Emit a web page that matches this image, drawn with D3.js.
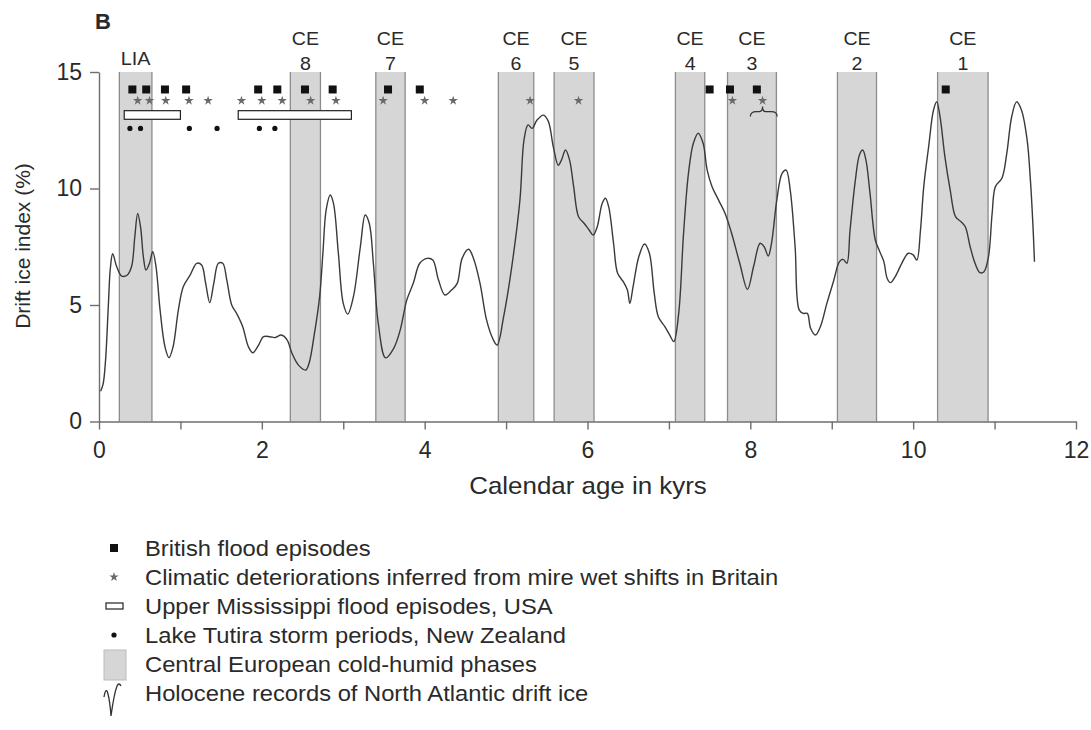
<!doctype html>
<html>
<head>
<meta charset="utf-8">
<title>drift ice</title>
<script src="https://cdn.jsdelivr.net/npm/d3@7"></script>
<style>
	body { margin: 0; background: #fff; }
	text { font-family: "Liberation Sans", Arial, sans-serif; fill: #2a2a2a; }
</style>
</head>
<body>
<script>
// drift ice record (kyr, %)
var ageKyr = [0.02, 0.05, 0.08, 0.115, 0.14, 0.168, 0.217, 0.279, 0.348, 0.40, 0.44, 0.475, 0.51, 0.545, 0.577, 0.62, 0.66, 0.70, 0.75, 0.81, 0.86, 0.91, 0.975, 1.036, 1.12, 1.20, 1.26, 1.31, 1.36, 1.41, 1.466, 1.52, 1.57, 1.63, 1.69, 1.765, 1.835, 1.89, 1.96, 2.02, 2.10, 2.16, 2.24, 2.31, 2.37, 2.45, 2.54, 2.58, 2.64, 2.71, 2.75, 2.79, 2.84, 2.88, 2.94, 3.0, 3.055, 3.125, 3.21, 3.27, 3.32, 3.37, 3.43, 3.52, 3.62, 3.70, 3.78, 3.86, 3.94, 4.03, 4.10, 4.17, 4.25, 4.33, 4.40, 4.46, 4.54, 4.60, 4.68, 4.76, 4.84, 4.89, 4.97, 5.07, 5.17, 5.22, 5.27, 5.32, 5.38, 5.46, 5.52, 5.58, 5.64, 5.68, 5.73, 5.78, 5.83, 5.89, 5.96, 6.02, 6.07, 6.12, 6.18, 6.22, 6.26, 6.32, 6.37, 6.44, 6.49, 6.52, 6.56, 6.63, 6.70, 6.76, 6.82, 6.87, 6.95, 7.01, 7.06, 7.12, 7.18, 7.24, 7.30, 7.36, 7.42, 7.47, 7.53, 7.61, 7.69, 7.77, 7.87, 7.965, 8.04, 8.12, 8.17, 8.22, 8.26, 8.325, 8.39, 8.44, 8.49, 8.55, 8.60, 8.65, 8.70, 8.74, 8.80, 8.86, 8.94, 9.02, 9.095, 9.14, 9.185, 9.225, 9.29, 9.34, 9.38, 9.42, 9.47, 9.535, 9.59, 9.64, 9.68, 9.72, 9.78, 9.86, 9.94, 10.0, 10.045, 10.09, 10.13, 10.19, 10.25, 10.29, 10.33, 10.39, 10.455, 10.52, 10.585, 10.64, 10.70, 10.76, 10.82, 10.87, 10.925, 10.97, 11.01, 11.09, 11.15, 11.21, 11.27, 11.33, 11.40, 11.44, 11.47, 11.49]
var driftIce = [1.3, 1.6, 2.6, 5.0, 6.6, 7.2, 6.65, 6.24, 6.29, 6.65, 7.93, 8.93, 8.36, 7.07, 6.5, 6.79, 7.29, 6.65, 4.79, 3.21, 2.74, 3.21, 4.79, 5.79, 6.29, 6.79, 6.72, 5.93, 5.10, 5.93, 6.79, 6.79, 6.07, 5.0, 4.64, 4.07, 3.21, 2.95, 3.28, 3.64, 3.64, 3.6, 3.71, 3.5, 2.93, 2.42, 2.21, 2.5, 3.64, 5.36, 7.22, 9.08, 9.72, 9.36, 7.22, 5.07, 4.61, 5.36, 7.5, 8.86, 8.5, 6.79, 4.21, 2.73, 3.14, 3.93, 5.21, 5.93, 6.79, 7.0, 6.93, 6.07, 5.43, 5.64, 5.93, 7.0, 7.39, 7.0, 5.93, 4.36, 3.53, 3.28, 4.5, 6.65, 9.5, 12.08, 12.73, 12.58, 12.94, 13.15, 12.87, 11.79, 11.0, 11.22, 11.65, 11.22, 10.08, 8.79, 8.5, 8.22, 8.0, 8.36, 9.36, 9.58, 9.22, 7.65, 6.36, 6.0, 5.64, 5.07, 5.79, 7.07, 7.62, 7.22, 5.5, 4.5, 4.07, 3.71, 3.43, 4.64, 8.08, 10.65, 11.94, 12.37, 11.94, 10.79, 10.08, 9.5, 8.93, 8.08, 6.79, 5.67, 6.65, 7.65, 7.5, 7.1, 7.65, 9.5, 10.65, 10.79, 9.93, 7.5, 4.79, 4.64, 4.64, 4.0, 3.71, 4.07, 5.07, 6.0, 6.86, 6.96, 6.79, 8.22, 10.36, 11.44, 11.65, 11.22, 9.79, 7.79, 7.29, 6.86, 6.15, 5.96, 6.22, 6.79, 7.22, 7.15, 6.93, 8.22, 10.08, 11.79, 13.37, 13.72, 13.08, 11.36, 9.93, 8.79, 8.58, 8.36, 7.5, 6.79, 6.39, 6.43, 7.07, 8.93, 10.08, 10.44, 11.51, 13.08, 13.72, 13.37, 12.08, 10.36, 8.5, 6.86]

// central european cold-humid phases
var phaseNames = ["LIA", "8", "7", "6", "5", "4", "3", "2", "1"]
var phaseStart = [0.25, 2.35, 3.40, 4.905, 5.59, 7.08, 7.72, 9.07, 10.30]
var phaseEnd = [0.65, 2.72, 3.76, 5.34, 6.08, 7.44, 8.32, 9.55, 10.92]

var britishFloods = [0.41, 0.58, 0.81, 1.07, 1.955, 2.19, 2.53, 2.87, 3.55, 3.94, 7.50, 7.75, 8.08, 10.40]
var mireShifts = [0.475, 0.62, 0.82, 1.105, 1.34, 1.75, 2.00, 2.25, 2.60, 2.91, 3.49, 4.00, 4.35, 5.295, 5.89, 7.78, 8.15]
var mississippiStart = [0.31, 1.71]
var mississippiEnd = [1.00, 3.10]
var tutiraStorms = [0.38, 0.51, 1.11, 1.45, 1.97, 2.16]

var legendLabels = ["British flood episodes",
	"Climatic deteriorations inferred from mire wet shifts in Britain",
	"Upper Mississippi flood episodes, USA",
	"Lake Tutira storm periods, New Zealand",
	"Central European cold-humid phases",
	"Holocene records of North Atlantic drift ice"]

var xTicks = d3.range(0, 13)
var yTicks = [0, 5, 10, 15]

var width = 1091
var height = 730
var svg = d3.select("body").append("svg")
	.attr("width", width)
	.attr("height", height)

var x = d3.scaleLinear().domain([0, 12]).range([99, 1076])
var y = d3.scaleLinear().domain([0, 15]).range([421.5, 72])

// text a little wider than the font, like the scanned figure
function label(g, tx, ty, size, sx, anchor, str) {
	return g.append("text")
		.attr("transform", "translate(" + tx + "," + ty + ") scale(" + sx + ",1)")
		.attr("text-anchor", anchor)
		.attr("font-size", size)
		.text(str)
}

// phases
var bands = svg.append("g")
phaseNames.forEach(function(n, i) {
	var x0 = x(phaseStart[i]), x1 = x(phaseEnd[i])
	bands.append("rect")
		.attr("x", x0).attr("y", y(15))
		.attr("width", x1 - x0).attr("height", y(0) - y(15))
		.attr("fill", "#d6d6d6")
	bands.selectAll(null).data([x0, x1]).enter().append("line")
		.attr("x1", function(d) { return d }).attr("x2", function(d) { return d })
		.attr("y1", y(15)).attr("y2", y(0))
		.attr("stroke", "#8c8c8c").attr("stroke-width", 1.3)
	var cx = (x0 + x1) / 2
	if (n == "LIA") {
		label(bands, cx, 65, 18, 1.1, "middle", "LIA")
	} else {
		label(bands, cx, 45, 18.5, 1.06, "middle", "CE")
		label(bands, cx, 70, 18.5, 1.06, "middle", n)
	}
})

// curve
var line = d3.line()
	.x(function(d, i) { return x(ageKyr[i]) })
	.y(function(d) { return y(d) })
	.curve(d3.curveCatmullRom.alpha(0.5))
svg.append("path")
	.datum(driftIce)
	.attr("d", line)
	.attr("fill", "none")
	.attr("stroke", "#3a3a3a")
	.attr("stroke-width", 1.4)

// event markers
svg.selectAll(".flood").data(britishFloods).enter().append("rect")
	.attr("x", function(d) { return x(d) - 4 })
	.attr("y", y(14.25) - 4)
	.attr("width", 8).attr("height", 8)
	.attr("fill", "#111")

var star = d3.symbol().type(d3.symbolStar).size(28)
svg.selectAll(".mire").data(mireShifts).enter().append("path")
	.attr("d", star)
	.attr("transform", function(d) { return "translate(" + x(d) + "," + y(13.77) + ")" })
	.attr("fill", "#6a6a6a")

svg.selectAll(".miss").data(mississippiStart).enter().append("rect")
	.attr("x", function(d) { return x(d) })
	.attr("y", y(13.34))
	.attr("width", function(d, i) { return x(mississippiEnd[i]) - x(d) })
	.attr("height", y(12.97) - y(13.34))
	.attr("fill", "#fff")
	.attr("stroke", "#222")
	.attr("stroke-width", 1.2)

svg.selectAll(".tutira").data(tutiraStorms).enter().append("circle")
	.attr("cx", function(d) { return x(d) })
	.attr("cy", y(12.58))
	.attr("r", 2.6)
	.attr("fill", "#111")

// brace under the CE3 mire shift
var bx0 = x(8.0), bx1 = x(8.33), bm = x(8.15), by = y(13.3)
svg.append("path")
	.attr("d", "M" + bx0 + "," + (by + 5) + " Q" + bx0 + "," + by + " " + (bx0 + 6) + "," + by
		+ " L" + (bm - 3) + "," + by + " Q" + bm + "," + by + " " + bm + "," + (by - 5)
		+ " Q" + bm + "," + by + " " + (bm + 3) + "," + by
		+ " L" + (bx1 - 6) + "," + by + " Q" + bx1 + "," + by + " " + bx1 + "," + (by + 5))
	.attr("fill", "none").attr("stroke", "#333").attr("stroke-width", 1.2)

// axes
var xAxis = svg.append("g")
	.attr("transform", "translate(0," + y(0) + ")")
	.call(d3.axisBottom(x).tickValues(xTicks).tickSize(8).tickSizeOuter(0).tickPadding(12)
		.tickFormat(function(d) { return d % 2 == 0 ? d : "" }))
var yAxis = svg.append("g")
	.attr("transform", "translate(" + x(0) + ",0)")
	.call(d3.axisLeft(y).tickValues(yTicks).tickSize(9).tickSizeOuter(0).tickPadding(8))
svg.selectAll(".domain, .tick line").attr("stroke", "#6e6e6e").attr("stroke-width", 1.4)
svg.selectAll(".tick text").attr("font-size", 23).attr("font-family", "Liberation Sans, Arial, sans-serif").attr("fill", "#2a2a2a")

label(svg, 588, 494, 24, 1.08, "middle", "Calendar age in kyrs")
svg.append("text")
	.attr("transform", "translate(30,246) rotate(-90)")
	.attr("text-anchor", "middle").attr("font-size", 21).text("Drift ice index (%)")
svg.append("text").attr("x", 95).attr("y", 28.5)
	.attr("font-size", 22).attr("font-weight", "bold").text("B")

// legend
var legend = svg.append("g")
var rowY = d3.range(legendLabels.length).map(function(i) { return 548 + i * 29 })
legendLabels.forEach(function(d, i) {
	label(legend, 145, rowY[i] + 8, 22, 1.08, "start", d)
})
legend.append("rect").attr("x", 110).attr("y", rowY[0] - 4).attr("width", 8).attr("height", 8).attr("fill", "#111")
legend.append("path").attr("d", star).attr("transform", "translate(114," + rowY[1] + ")").attr("fill", "#6a6a6a")
legend.append("rect").attr("x", 106).attr("y", rowY[2] - 3).attr("width", 17).attr("height", 6)
	.attr("fill", "#fff").attr("stroke", "#222").attr("stroke-width", 1.2)
legend.append("circle").attr("cx", 114).attr("cy", rowY[3]).attr("r", 2.6).attr("fill", "#111")
legend.append("rect").attr("x", 104).attr("y", rowY[4] - 14).attr("width", 22).attr("height", 30)
	.attr("fill", "#d6d6d6").attr("stroke", "#bbb")
legend.append("path")
	.attr("d", "M104,697 Q106,686 108,694 Q110,702 111,716 Q114,694 117,686 Q119,682 121,686")
	.attr("fill", "none").attr("stroke", "#333").attr("stroke-width", 1.3)
</script>
</body>
</html>
